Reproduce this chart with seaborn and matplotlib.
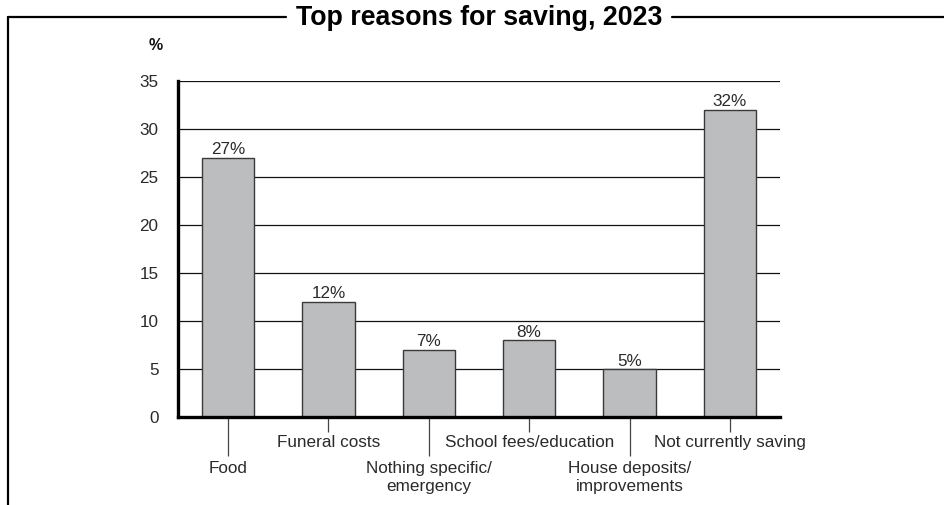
import matplotlib
matplotlib.use("Agg")
import matplotlib.pyplot as plt
from matplotlib.lines import Line2D
import seaborn as sns
import pandas as pd

categories = ["Food", "Funeral costs", "Nothing specific/\nemergency",
              "School fees/education", "House deposits/\nimprovements",
              "Not currently saving"]
values = [27, 12, 7, 8, 5, 32]
value_labels = ["27%", "12%", "7%", "8%", "5%", "32%"]
yticks = [0, 5, 10, 15, 20, 25, 30, 35]
title = "Top reasons for saving, 2023"

sns.set_theme(style="white")
plt.rcParams['font.family'] = ['Liberation Sans', 'DejaVu Sans']

df = pd.DataFrame({"reason": categories, "pct": values})

FS = 12.3
TXT = "#2a2a2a"

fig = plt.figure(figsize=(9.45, 5.05), dpi=100)
ax = fig.add_axes([178/945, 1-417/505, (780-178)/945, (417-81)/505])

sns.barplot(data=df, x="reason", y="pct", ax=ax, color="#bcbdbf",
            saturation=1, width=0.52, edgecolor="#3a3a3a", linewidth=1.0, zorder=3)

ax.set_xlim(-0.5, 5.5)
ax.set_ylim(0, 35)
ax.set_yticks(yticks)
ax.set_yticklabels([str(t) for t in yticks], fontsize=FS, color=TXT)
ax.tick_params(axis="y", length=0, pad=14)
ax.yaxis.grid(True, color="#111111", linewidth=0.9, zorder=0)
ax.set_axisbelow(True)

for s in ["top", "right"]:
    ax.spines[s].set_visible(False)
for s in ["left", "bottom"]:
    ax.spines[s].set_linewidth(2.4)
    ax.spines[s].set_color("black")
    ax.spines[s].set_zorder(4)

# alternating tick lengths
major_pos = [0, 2, 4]
minor_pos = [1, 3, 5]
ax.set_xticks(major_pos)
ax.set_xticklabels([categories[i] for i in major_pos], fontsize=FS, color=TXT,
                   linespacing=1.3)
ax.set_xticks(minor_pos, minor=True)
ax.set_xticklabels([categories[i] for i in minor_pos], minor=True, fontsize=FS,
                   color=TXT)
ax.tick_params(axis="x", which="major", length=28, width=0.9, color="#444444",
               direction="out", pad=3.5, bottom=True)
ax.tick_params(axis="x", which="minor", length=10.5, width=0.9, color="#444444",
               direction="out", pad=2.5, bottom=True)
ax.set_xlabel("")
ax.set_ylabel("")

for i, (v, lab) in enumerate(zip(values, value_labels)):
    ax.text(i, v + 0.35, lab, ha="center", va="baseline", fontsize=FS, color=TXT)

fig.text(149/945, 1-45/505, "%", ha="left", va="center", fontsize=11.5,
         fontweight="bold", color="#111111")

# frame
lw = 1.6
fig.add_artist(Line2D([8/945, 8/945], [0, 1-17/505], color="black", linewidth=lw))
fig.add_artist(Line2D([8/945, 286/945], [1-17/505, 1-17/505], color="black", linewidth=lw))
fig.add_artist(Line2D([672/945, 1], [1-17/505, 1-17/505], color="black", linewidth=lw))
fig.text(479/945, 1-18/505, title, ha="center", va="center", fontsize=19.3,
         fontweight="bold", color="black")

fig.savefig("out.png", dpi=100)
